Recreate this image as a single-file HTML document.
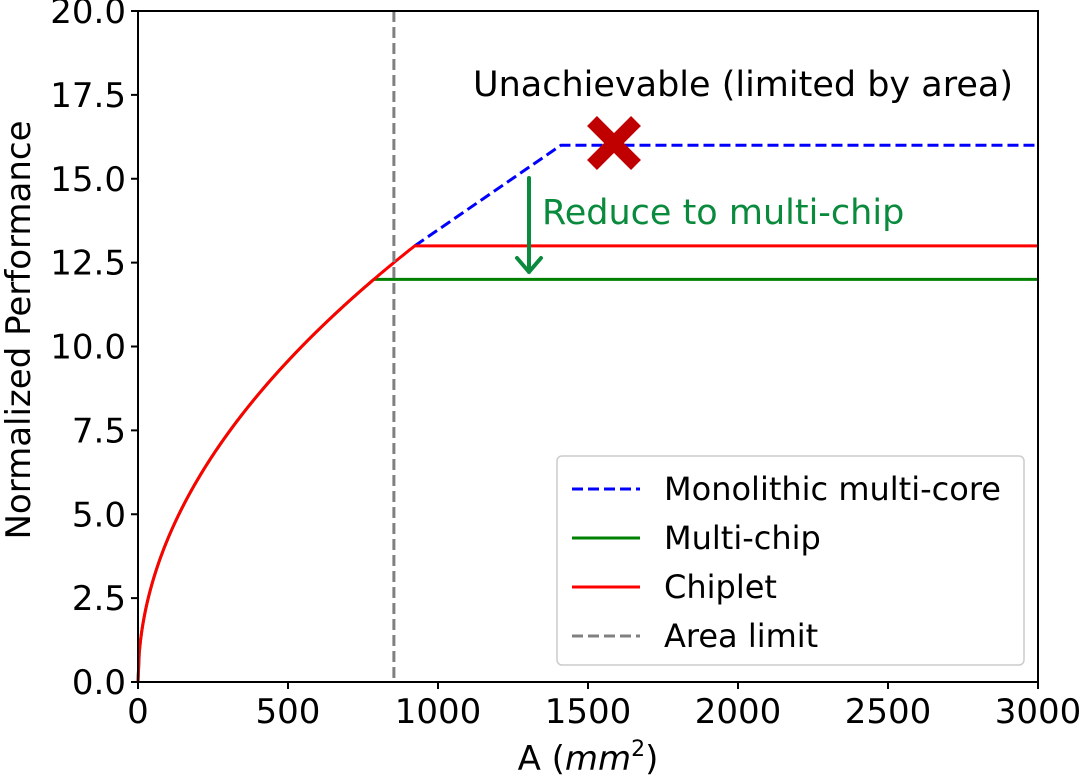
<!DOCTYPE html>
<html><head><meta charset="utf-8"><style>
body{margin:0;background:#fff;}
svg text{font-family:"DejaVu Sans","Liberation Sans",sans-serif;}
</style></head><body>
<svg id="chart" width="1080" height="779" viewBox="0 0 1080 779" xmlns="http://www.w3.org/2000/svg">
<g id="plot"></g>
</svg>
<script>
const xTicks=[0,500,1000,1500,2000,2500,3000];
const yTicks=[0,2.5,5,7.5,10,12.5,15,17.5,20];
const yTickLabels=["0.0","2.5","5.0","7.5","10.0","12.5","15.0","17.5","20.0"];
const perfCoef=[0.428];
const areaLimit=[853];
const multiChipCap=[12];
const chipletCap=[13];
const monoCap=[16];
const monoCapArea=[1410];
const xMax=3000, yMax=20;
const L=138,R=1038,T=11,B=682;
const sx=v=>L+(R-L)*v/xMax;
const sy=v=>B-(B-T)*v/yMax;
const NS="http://www.w3.org/2000/svg";
const g=document.getElementById('plot');
function mk(tag,attrs,name){const e=document.createElementNS(NS,tag);for(const k in attrs)e.setAttribute(k,attrs[k]);


g.appendChild(e);return e;}
const k=perfCoef[0];
const curve=A=>k*Math.sqrt(A);
function curvePts(a0,a1){const p=[];for(let i=0;i<=200;i++){const A=a0+(a1-a0)*i/200;p.push(sx(A).toFixed(2)+','+sy(curve(A)).toFixed(2));}return p;}
const aMC=Math.pow(multiChipCap[0]/k,2), aCh=Math.pow(chipletCap[0]/k,2);
let p=curvePts(aCh,aCh); p.push(sx(monoCapArea[0])+','+sy(monoCap[0])); p.push(sx(xMax)+','+sy(monoCap[0]));
mk('polyline',{points:p.join(' '),fill:'none',stroke:'#0000ff','stroke-width':3,'stroke-dasharray':'11,5'},'monolithic-line');
p=curvePts(0,aMC); p.push(sx(xMax)+','+sy(multiChipCap[0]));
mk('polyline',{points:p.join(' '),fill:'none',stroke:'#008000','stroke-width':3},'multi-chip-line');
p=curvePts(0,aCh); p.push(sx(xMax)+','+sy(chipletCap[0]));
mk('polyline',{points:p.join(' '),fill:'none',stroke:'#ff0000','stroke-width':3},'chiplet-line');
mk('line',{x1:sx(areaLimit[0]),x2:sx(areaLimit[0]),y1:T,y2:B,stroke:'#808080','stroke-width':3,'stroke-dasharray':'11,5'},'area-limit-line');
mk('rect',{x:L,y:T,width:R-L,height:B-T,fill:'none',stroke:'#000','stroke-width':2},'plot-frame');
xTicks.forEach(v=>{mk('line',{x1:sx(v),x2:sx(v),y1:B,y2:B+7,stroke:'#000','stroke-width':2},'x-tick');
const t=mk('text',{x:sx(v),y:B+41,'text-anchor':'middle','font-size':34,fill:'#000'},'x-tick-label');t.textContent=v;});
yTicks.forEach((v,i)=>{mk('line',{x1:L-7,x2:L,y1:sy(v),y2:sy(v),stroke:'#000','stroke-width':2},'y-tick');
const t=mk('text',{x:L-12,y:sy(v)+12,'text-anchor':'end','font-size':34,fill:'#000'},'y-tick-label');t.textContent=yTickLabels[i];});
let t=mk('text',{x:sx(1500),y:770,'text-anchor':'middle','font-size':34,fill:'#000'},'x-axis-title');
t.innerHTML='A (<tspan font-style="italic">mm</tspan><tspan font-size="22" dy="-14">2</tspan><tspan dy="14">)</tspan>';
t=mk('text',{x:30,y:330,'text-anchor':'middle','font-size':34,fill:'#000',transform:'rotate(-90 30 330)'},'y-axis-title');t.textContent='Normalized Performance';
t=mk('text',{x:743,y:96,'text-anchor':'middle','font-size':35,fill:'#000'},'unachievable-label');t.textContent='Unachievable (limited by area)';
mk('path',{d:'M592 121 L636 165 M636 121 L592 165',stroke:'#c00000','stroke-width':14,fill:'none'},'cross-mark');
mk('path',{d:'M529 178 L529 272 M517 258 L529 272 L541 258',stroke:'#0a8a3c','stroke-width':4,fill:'none','stroke-linecap':'round','stroke-linejoin':'round'},'reduce-arrow');
t=mk('text',{x:542,y:224,'font-size':35,fill:'#0a8a3c'},'reduce-label');t.textContent='Reduce to multi-chip';
mk('rect',{x:557,y:456,width:467,height:209,rx:5,fill:'#fff',stroke:'#ccc','stroke-width':1.5},'legend-box');
const leg=[['Monolithic multi-core','#0000ff','11,5'],['Multi-chip','#008000',''],['Chiplet','#ff0000',''],['Area limit','#808080','11,5']];
leg.forEach((d,i)=>{const y=489+i*49;
mk('line',{x1:572,x2:640,y1:y,y2:y,stroke:d[1],'stroke-width':3,'stroke-dasharray':d[2]||'none'},'legend-swatch');
const tt=mk('text',{x:664,y:y+11,'font-size':32,fill:'#000'},'legend-entry');tt.textContent=d[0];});
</script>
</body></html>
